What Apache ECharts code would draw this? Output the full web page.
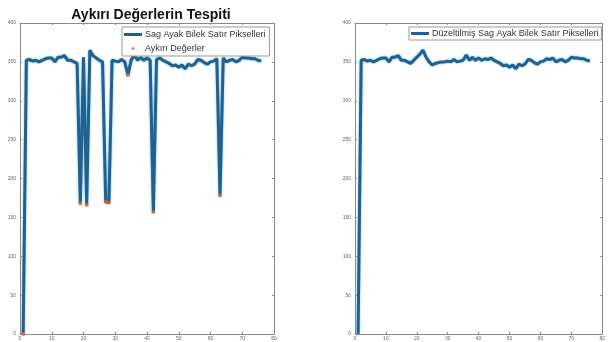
<!DOCTYPE html>
<html><head><meta charset="utf-8">
<script src="https://cdn.jsdelivr.net/npm/echarts@6/dist/echarts.min.js"></script>
<style>html,body{margin:0;padding:0;background:#fff}#c{width:608px;height:342px}</style>
</head><body><div id="c"></div>
<script>
const xValues = Array.from({length: 76}, (_, i) => i + 1);
const rawValues = [0,352,353,351,352,350,352,354,355,355,350,356,356,358,352,352,350,348,168,356,166,365,358,355,352,350,170,169,352,351,350,353,350,333,352,359,352,356,352,355,352,157,353,355,352,350,348,345,346,343,346,341,347,345,347,353,352,349,347,350,351,354,178,355,350,352,353,350,352,356,355,355,354,354,352,351];
const correctedValues = [0,352,353,351,352,350,352,354,355,355,350,356,356,358,352,352,350,348,352,356,360,365,356,350,346,348,349,350,350,351,350,353,350,351,352,359,352,356,352,355,352,354,353,355,352,350,348,345,346,343,346,341,347,345,347,353,352,349,347,350,351,354,353,355,350,352,353,350,352,356,355,355,354,354,352,351];
const outlierX = [1,19,21,27,28,34,42,63];
const outlierY = [0,168,166,170,169,333,157,178];
const xTicks = [0,10,20,30,40,50,60,70,80];
const yTicks = [0,50,100,150,200,250,300,350,400];

const rawPairs = xValues.map((x, i) => [x, rawValues[i]]);
const corrPairs = xValues.map((x, i) => [x, correctedValues[i]]);
const outPairs = outlierX.map((x, i) => [x, outlierY[i]]);

const axisColor = '#8a8a8a';
const lbl = {color: '#666', fontSize: 5, fontFamily: 'Liberation Sans'};
function xAx(grid, pos, show) {
  return {type: 'value', gridIndex: grid, position: pos, min: xTicks[0], max: xTicks[xTicks.length - 1], interval: 10,
    axisLine: {show: true, onZero: false, lineStyle: {color: axisColor, width: 1}},
    axisTick: {show: true, inside: true, length: 2, lineStyle: {color: axisColor}},
    axisLabel: Object.assign({show: show, margin: 2}, lbl), splitLine: {show: false}};
}
function yAx(grid, pos, show) {
  return {type: 'value', gridIndex: grid, position: pos, min: yTicks[0], max: yTicks[yTicks.length - 1], interval: 50,
    axisLine: {show: true, onZero: false, lineStyle: {color: axisColor, width: 1}},
    axisTick: {show: true, inside: true, length: 2, lineStyle: {color: axisColor}},
    axisLabel: Object.assign({show: show, margin: 4}, lbl), splitLine: {show: false}};
}
const lineStyle = {color: '#22618f', width: 3, shadowColor: 'rgba(70,170,230,0.9)', shadowBlur: 2};

const chart = echarts.init(document.getElementById('c'), null, {renderer: 'canvas'});
chart.setOption({
  animation: false,
  backgroundColor: '#fff',
  title: {text: 'Aykırı Değerlerin Tespiti', left: 146, textAlign: 'center', top: 3,
    textStyle: {fontSize: 14, fontWeight: 'bold', color: '#111', fontFamily: 'Liberation Sans'}},
  grid: [
    {left: 20, right: 334, top: 23, bottom: 8},
    {left: 355, right: -4, top: 23, bottom: 8}
  ],
  xAxis: [xAx(0, 'bottom', true), xAx(0, 'top', false), xAx(1, 'bottom', true), xAx(1, 'top', false)],
  yAxis: [yAx(0, 'left', true), yAx(0, 'right', false), yAx(1, 'left', true), yAx(1, 'right', false)],
  legend: [
    {data: [{name: 'Sag Ayak Bilek Satır Pikselleri', icon: 'rect'}, {name: 'Aykırı Değerler', icon: 'circle'}],
     orient: 'vertical', left: 122, top: 27, itemWidth: 18, itemHeight: 3, itemGap: 5,
     padding: [3, 4, 3, 2], backgroundColor: '#fff', borderColor: '#999', borderWidth: 1,
     textStyle: {fontSize: 9, color: '#333', fontFamily: 'Liberation Sans', padding: [0, 0, 0, -2]}},
    {data: [{name: 'Düzeltilmiş Sag Ayak Bilek Satır Pikselleri', icon: 'rect'}],
     orient: 'vertical', left: 409, top: 27, itemWidth: 18, itemHeight: 3,
     padding: [2, 3, 2, 2], backgroundColor: '#fff', borderColor: '#999', borderWidth: 1,
     textStyle: {fontSize: 9, color: '#333', fontFamily: 'Liberation Sans', padding: [0, 0, 0, -2]}}
  ],
  series: [
    {name: 'Sag Ayak Bilek Satır Pikselleri', type: 'line', xAxisIndex: 0, yAxisIndex: 0,
     data: rawPairs, showSymbol: false, symbol: 'none', lineStyle: lineStyle, itemStyle: {color: '#22618f'}},
    {name: 'Aykırı Değerler', type: 'scatter', xAxisIndex: 0, yAxisIndex: 0,
     data: outPairs, symbolSize: 4, itemStyle: {color: '#e0622c'}, z: 5},
    {name: 'Düzeltilmiş Sag Ayak Bilek Satır Pikselleri', type: 'line', xAxisIndex: 2, yAxisIndex: 2,
     data: corrPairs, showSymbol: false, symbol: 'none', lineStyle: lineStyle, itemStyle: {color: '#22618f'}}
  ]
});
</script></body></html>
